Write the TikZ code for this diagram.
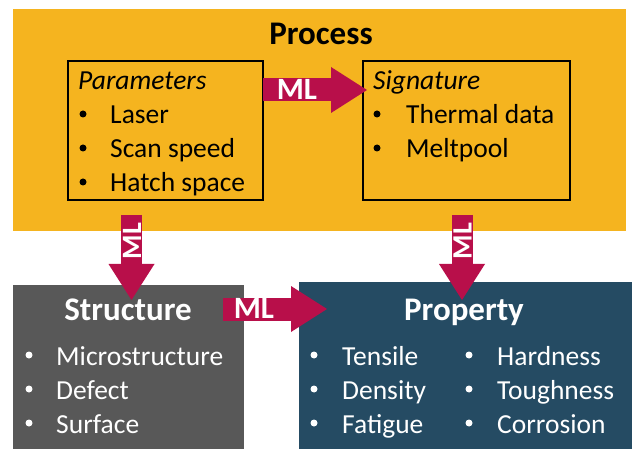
\documentclass[tikz,border=0pt]{standalone}
\usepackage{fontspec}
\setmainfont{Carlito}
\usetikzlibrary{arrows.meta}
\definecolor{procorange}{HTML}{F5B41F}
\definecolor{mlred}{HTML}{B80F4A}
\definecolor{structgray}{HTML}{585858}
\definecolor{propblue}{HTML}{254B63}
\newcommand\mkentry[6]{%
  \node[bulletdot,fill=#5] (#1b) at (#2,#4-10) {};
  \node[entrytext,text=#5] (#1) at (#3,#4) {#6};}
\begin{document}
\begin{tikzpicture}[x=1pt,y=-1pt,
  panel/.style={draw=none, inner sep=0pt, outer sep=0pt, anchor=north west},
  innerbox/.style={draw=black, line width=2.5pt, inner sep=0pt, outer sep=0pt, anchor=north west, minimum height=139pt},
  entrytext/.style={anchor=base west, inner sep=0pt, font=\fontsize{27.5}{33}\selectfont},
  bulletdot/.style={circle, inner sep=0pt, minimum size=7pt},
  heading/.style={anchor=base, inner sep=0pt, font=\bfseries\fontsize{33}{40}\selectfont},
  mlarrow/.style={draw=mlred, line width=23pt, -{Triangle[length=36pt 0 0, width=46pt 0 0, line width=0pt 0 0]}},
  mlvarrow/.style={mlarrow, line width=21pt},
  mltext/.style={text=white, inner sep=0pt, font=\bfseries\fontsize{31}{31}\selectfont},
  mlvtext/.style={mltext, rotate=90, font=\bfseries\fontsize{28}{28}\selectfont}]
\useasboundingbox (0,0) rectangle (632,449);
% panels
\node[panel, fill=procorange, minimum width=613pt, minimum height=222pt] (process) at (13,9) {};
\node[panel, fill=structgray, minimum width=231pt, minimum height=164pt] (structure) at (13,285) {};
\node[panel, fill=propblue, minimum width=333pt, minimum height=167pt] (property) at (299,282) {};
\node[innerbox, minimum width=195pt] (params) at (68,61) {};
\node[innerbox, minimum width=207pt] (sig) at (363,61) {};
% headings
\node[heading] (processtitle) at (321,45) {Process};
\node[heading, text=white] (structtitle) at (128,320) {Structure};
\node[heading, text=white] (proptitle) at (464,320) {Property};
% parameters
\node[entrytext] (paramtitle) at (78,90) {\itshape Parameters};
\mkentry{p1}{83}{110}{124}{black}{Laser}
\mkentry{p2}{83}{110}{158}{black}{Scan speed}
\mkentry{p3}{83}{110}{192}{black}{Hatch space}
% signature
\node[entrytext] (sigtitle) at (373,90) {\itshape Signature};
\mkentry{s1}{377}{406}{124}{black}{Thermal data}
\mkentry{s2}{377}{406}{158}{black}{Meltpool}
% structure
\mkentry{t1}{29}{56}{365}{white}{Microstructure}
\mkentry{t2}{29}{56}{399}{white}{Defect}
\mkentry{t3}{29}{56}{433}{white}{Surface}
% property
\mkentry{r1}{314}{342}{365}{white}{Tensile}
\mkentry{r2}{314}{342}{399}{white}{Density}
\mkentry{r3}{314}{342}{433}{white}{Fatigue}
\mkentry{r4}{469}{497}{365}{white}{Hardness}
\mkentry{r5}{469}{497}{399}{white}{Toughness}
\mkentry{r6}{469}{497}{433}{white}{Corrosion}
% ML arrows
\coordinate (topy) at (0,90);
\coordinate (boty) at (0,309);
\draw[mlarrow] (params.east |- topy) -- ([xshift=4pt]sig.west |- topy);
\node[mltext] (ml1) at (297,89) {ML};
\draw[mlarrow] ([xshift=-21pt]structure.east |- boty) -- ([xshift=28pt]property.west |- boty);
\node[mltext] (ml2) at (254,308) {ML};
\coordinate (v1s) at (131.5,215);
\coordinate (v1e) at (131.5,300);
\draw[mlvarrow] (v1s) -- (v1e);
\node[mlvtext] (ml3) at (132,241) {ML};
\coordinate (v2s) at (462,215);
\coordinate (v2e) at (462,300);
\draw[mlvarrow] (v2s) -- (v2e);
\node[mlvtext] (ml4) at (462.5,241) {ML};
\end{tikzpicture}
\end{document}
